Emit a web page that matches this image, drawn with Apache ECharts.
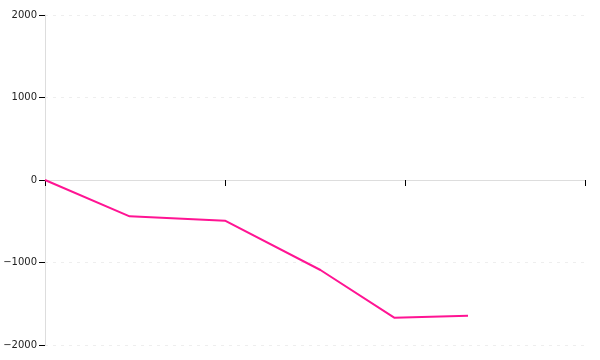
<!DOCTYPE html>
<html>
<head>
<meta charset="utf-8">
<script src="https://cdn.jsdelivr.net/npm/echarts@6/dist/echarts.min.js"></script>
<style>html,body{margin:0;padding:0;background:#fff}#c{width:600px;height:360px}</style>
</head>
<body>
<div id="c"></div>
<script>
var xValues = [0, 0.47, 1.0, 1.53, 1.94, 2.35];
var yValues = [0, -440, -493, -1091, -1669, -1645];
var yTicks = [-2000, -1000, 0, 1000, 2000];

var chart = echarts.init(document.getElementById('c'));
var data = xValues.map(function (x, i) { return [x, yValues[i]]; });
chart.setOption({
  animation: false,
  grid: { left: 45, right: 15, top: 15, bottom: 15 },
  xAxis: {
    type: 'value', min: 0, max: 3, interval: 1,
    axisLine: { onZero: true, lineStyle: { color: '#ddd', width: 1 } },
    axisTick: { show: true, length: 6, lineStyle: { color: '#000', width: 1 } },
    axisLabel: { show: false },
    splitLine: { show: false }
  },
  yAxis: {
    type: 'value', min: yTicks[0], max: yTicks[yTicks.length - 1], interval: 1000,
    axisLine: { show: true, lineStyle: { color: '#ddd', width: 1 } },
    axisTick: { show: true, length: 6, lineStyle: { color: '#000', width: 1 } },
    axisLabel: {
      color: '#222', fontFamily: 'DejaVu Sans', fontSize: 10, margin: 8,
      formatter: function (v) { return v < 0 ? '\u2212' + Math.abs(v) : String(v); }
    },
    splitLine: { show: true, lineStyle: { color: '#eee', type: [3, 5], width: 1 } }
  },
  series: [{
    type: 'line',
    data: data,
    showSymbol: false,
    lineStyle: { color: '#ff1493', width: 2 },
    itemStyle: { color: '#ff1493' }
  }]
});
</script>
</body>
</html>
